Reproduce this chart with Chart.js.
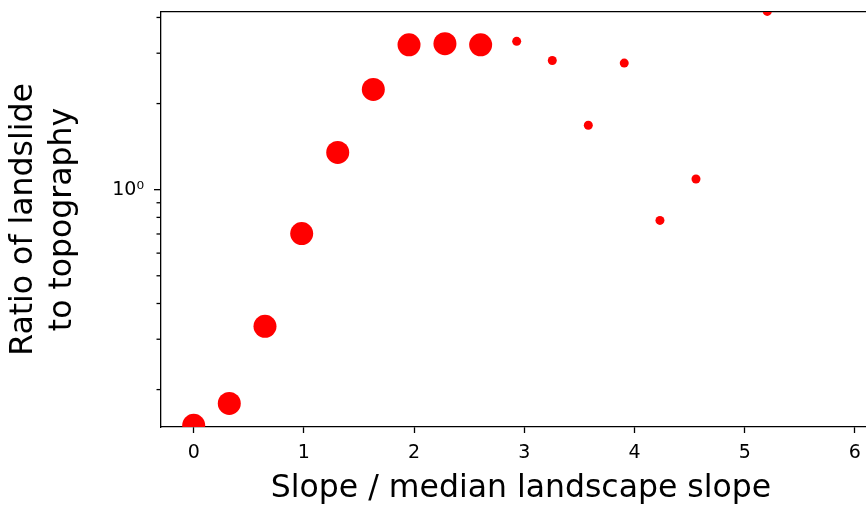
<!DOCTYPE html>
<html>
<head>
<meta charset="utf-8">
<script src="https://cdn.jsdelivr.net/npm/chart.js@4"></script>
<style>
  html, body { margin: 0; padding: 0; background: #fff; overflow: hidden; }
  #wrap { width: 866px; height: 505px; overflow: hidden; }
</style>
</head>
<body>
<div id="wrap"><canvas id="chart" width="881" height="505"></canvas></div>
<script>
// slope bins (slope / median landscape slope) and landslide-to-topography ratio
const slopeRatio = [0, 0.323, 0.647, 0.98, 1.307, 1.63, 1.954, 2.28, 2.604, 2.931, 3.254, 3.581, 3.907, 4.231, 4.558, 5.205];
const landslideRatio = [0.150, 0.179, 0.333, 0.702, 1.35, 2.24, 3.21, 3.24, 3.21, 3.30, 2.83, 1.68, 2.77, 0.781, 1.09, 4.20];
const xTickValues = [0, 1, 2, 3, 4, 5, 6];
const yTickValues = [0.2, 0.3, 0.4, 0.5, 0.6, 0.7, 0.8, 0.9, 1, 2, 3, 4];

Chart.defaults.font.family = "'DejaVu Sans', sans-serif";
Chart.defaults.color = '#000';

const points = slopeRatio.map((x, i) => ({ x: x, y: landslideRatio[i] }));

// y tick marks: long for the decade, short for minor ticks
const yTickMarks = {
  id: 'yTickMarks',
  afterDraw(chart) {
    const s = chart.scales.y, c = chart.ctx;
    c.save();
    c.strokeStyle = '#000';
    c.lineWidth = 1.3;
    yTickValues.forEach(v => {
      const py = s.getPixelForValue(v);
      const len = v === 1 ? 7 : 4.5;
      c.beginPath();
      c.moveTo(s.right, py);
      c.lineTo(s.right - len, py);
      c.stroke();
    });
    c.restore();
  }
};

new Chart(document.getElementById('chart'), {
  type: 'scatter',
  data: {
    datasets: [{
      data: points,
      backgroundColor: '#ff0000',
      borderWidth: 0,
      pointRadius: ctx => ctx.dataIndex < 9 ? 11.5 : 4.5,
      pointHoverRadius: ctx => ctx.dataIndex < 9 ? 11.5 : 4.5,
      clip: 0
    }]
  },
  options: {
    responsive: false,
    animation: false,
    layout: { autoPadding: false, padding: { top: 12, right: 0, bottom: 0, left: 0 } },
    plugins: { legend: { display: false }, tooltip: { enabled: false } },
    scales: {
      x: {
        type: 'linear',
        position: 'bottom',
        min: -0.2967,
        max: 6.237,
        afterBuildTicks: s => { s.ticks = xTickValues.map(v => ({ value: v })); },
        ticks: { font: { size: 19 }, padding: 9, autoSkip: false },
        grid: { drawOnChartArea: false, drawTicks: true, tickLength: 6, tickColor: '#000', tickWidth: 1.3 },
        border: { display: true, color: '#000', width: 1.3 },
        title: {
          display: true,
          text: 'Slope / median landscape slope',
          font: { size: 31.5, lineHeight: 1 },
          padding: { top: 0, bottom: 0 }
        },
        afterFit: s => { s.height = 78; s.paddingLeft = 0; s.paddingRight = 0; }
      },
      xTop: {
        type: 'linear',
        position: 'top',
        min: -0.2967,
        max: 6.237,
        ticks: { display: false },
        grid: { display: false, drawTicks: false },
        border: { display: true, color: '#000', width: 1.3 },
        afterFit: s => { s.height = 0; s.paddingLeft = 0; s.paddingRight = 0; }
      },
      y: {
        type: 'logarithmic',
        min: 0.148,
        max: 4.18,
        afterBuildTicks: s => { s.ticks = yTickValues.map(v => ({ value: v })); },
        ticks: {
          font: { size: 19 },
          padding: 17,
          autoSkip: false,
          callback: v => v === 1 ? '10\u2070' : ''
        },
        grid: { drawOnChartArea: false, drawTicks: false },
        border: { display: true, color: '#000', width: 1.3 },
        title: {
          display: true,
          text: ['Ratio of landslide', 'to topography'],
          font: { size: 31.5, lineHeight: 1.25 },
          padding: { top: 4, bottom: 0 }
        },
        afterFit: s => { s.width = 161; s.paddingTop = 0; s.paddingBottom = 0; }
      }
    }
  },
  plugins: [yTickMarks]
});
</script>
</body>
</html>
